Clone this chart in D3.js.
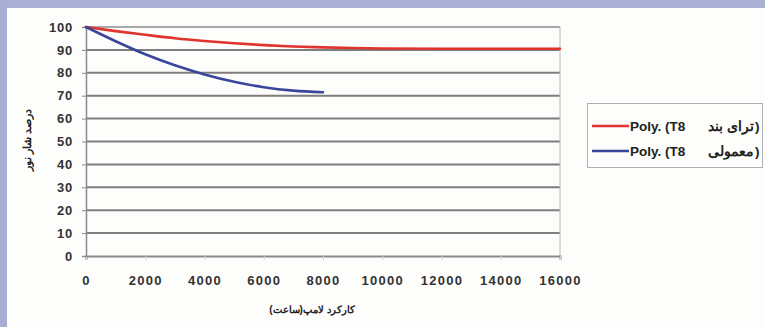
<!DOCTYPE html>
<html>
<head>
<meta charset="utf-8">
<script src="https://cdn.jsdelivr.net/npm/d3@7"></script>
<style>
  html, body { margin: 0; padding: 0; background: #fdfdfb; }
  svg { display: block; }
  text { font-family: "Liberation Sans", Arial, sans-serif; }
</style>
</head>
<body>
<svg id="chart" width="765" height="327"></svg>
<script>
// Operating hours (x) and luminous flux percentage (y) of the two T8 trendlines
const triBandHours = [0, 1000, 2000, 3000, 4000, 5000, 6000, 7000, 8000, 9000, 10000, 12000, 14000, 16000];
const triBandFlux  = [100, 98.2, 96.6, 95.1, 93.9, 92.9, 92.1, 91.5, 91.1, 90.8, 90.6, 90.5, 90.5, 90.5];
const normalHours  = [0, 1000, 2000, 3000, 4000, 5000, 6000, 7000, 8000];
const normalFlux   = [100, 93.8, 88.1, 83.3, 79.3, 76.1, 73.7, 72.2, 71.5];

const xTicks = [0, 2000, 4000, 6000, 8000, 10000, 12000, 14000, 16000];
const yTicks = [0, 10, 20, 30, 40, 50, 60, 70, 80, 90, 100];

// legend labels: latin prefix, persian lamp type, closing bracket
const legendPrefix = ["Poly. (T8", "Poly. (T8"];
const legendType   = ["ترای بند", "معمولی"];
const legendClose  = [")", ")"];
const seriesColors = ["#e0332e", "#3a459c"];
const yTitle = "درصد شار نور";
const xTitle = "کارکرد لامپ(ساعت)";

const svg = d3.select("#chart");

// page frame: lavender strips along the top and left edges
svg.append("rect").attr("x", 0).attr("y", 0).attr("width", 765).attr("height", 327).attr("fill", "#fdfdfb");
svg.append("rect").attr("x", 0).attr("y", 0).attr("width", 765).attr("height", 8).attr("fill", "#aab0d4");
svg.append("rect").attr("x", 0).attr("y", 0).attr("width", 7).attr("height", 327).attr("fill", "#a8add2");

const x = d3.scaleLinear().domain([0, 16000]).range([86, 560]);
const y = d3.scaleLinear().domain([0, 100]).range([256, 27]);

// horizontal gridlines
svg.append("g").selectAll("line")
  .data(yTicks.filter(d => d > 0))
  .join("line")
  .attr("x1", x(0)).attr("x2", x(16000))
  .attr("y1", d => y(d)).attr("y2", d => y(d))
  .attr("stroke", d => d === 100 ? "#a8a8a8" : "#7e7e7e")
  .attr("stroke-width", 2);

// right edge of the plot area
svg.append("line")
  .attr("x1", x(16000)).attr("x2", x(16000))
  .attr("y1", y(100)).attr("y2", y(0))
  .attr("stroke", "#b8b8b8").attr("stroke-width", 1);

// x axis
const xAxis = svg.append("g")
  .attr("transform", `translate(0,${y(0)})`)
  .call(d3.axisBottom(x).tickValues(xTicks).tickSize(4).tickPadding(16).tickFormat(d3.format("d")));
xAxis.select(".domain").attr("stroke", "#8a8a8a").attr("stroke-width", 2);
xAxis.selectAll(".tick line").attr("stroke", "#d4d4d4");
xAxis.selectAll("text")
  .attr("font-size", 13).attr("font-weight", "bold").attr("fill", "#333")
  .attr("letter-spacing", 1.3);

// y axis
const yAxis = svg.append("g")
  .attr("transform", `translate(${x(0)},0)`)
  .call(d3.axisLeft(y).tickValues(yTicks).tickSize(4).tickPadding(9));
yAxis.select(".domain").attr("stroke", "#8a8a8a").attr("stroke-width", 1.5);
yAxis.selectAll(".tick line").attr("stroke", "#8a8a8a");
yAxis.selectAll("text")
  .attr("font-size", 13).attr("font-weight", "bold").attr("fill", "#333")
  .attr("letter-spacing", 0.8);

// trend curves
const line = d3.line()
  .x(d => x(d[0])).y(d => y(d[1]))
  .curve(d3.curveMonotoneX);

const series = [
  d3.zip(triBandHours, triBandFlux),
  d3.zip(normalHours, normalFlux)
];
svg.append("g").selectAll("path")
  .data(series)
  .join("path")
  .attr("d", line)
  .attr("fill", "none")
  .attr("stroke", (d, i) => seriesColors[i])
  .attr("stroke-width", 2.6)
  .attr("stroke-linecap", "round");

// axis titles
svg.append("text")
  .attr("transform", "translate(31,140) rotate(-90)")
  .attr("text-anchor", "middle")
  .attr("font-size", 11).attr("font-weight", "bold").attr("fill", "#222")
  .text(yTitle);

svg.append("text")
  .attr("x", 312).attr("y", 313)
  .attr("text-anchor", "middle")
  .attr("font-size", 10).attr("font-weight", "bold").attr("fill", "#222")
  .text(xTitle);

// legend
const legend = svg.append("g");
legend.append("rect")
  .attr("x", 587.5).attr("y", 103.5).attr("width", 175).attr("height", 64)
  .attr("fill", "#fdfdfb").attr("stroke", "#b0b0b0").attr("stroke-width", 1);
legendPrefix.forEach((prefix, i) => {
  const cy = 126 + i * 25;
  legend.append("line")
    .attr("x1", 592).attr("x2", 629).attr("y1", cy).attr("y2", cy)
    .attr("stroke", seriesColors[i]).attr("stroke-width", 2.6);
  legend.append("text")
    .attr("x", 630).attr("y", cy + 5)
    .attr("font-size", 13.5).attr("font-weight", "bold").attr("fill", "#222")
    .text(prefix);
  legend.append("text")
    .attr("x", 754).attr("y", cy + 5)
    .attr("text-anchor", "end")
    .attr("font-size", 14).attr("font-weight", "bold").attr("fill", "#222")
    .text(legendType[i]);
  legend.append("text")
    .attr("x", 755).attr("y", cy + 5)
    .attr("font-size", 13.5).attr("font-weight", "bold").attr("fill", "#222")
    .text(legendClose[i]);
});
</script>
</body>
</html>
